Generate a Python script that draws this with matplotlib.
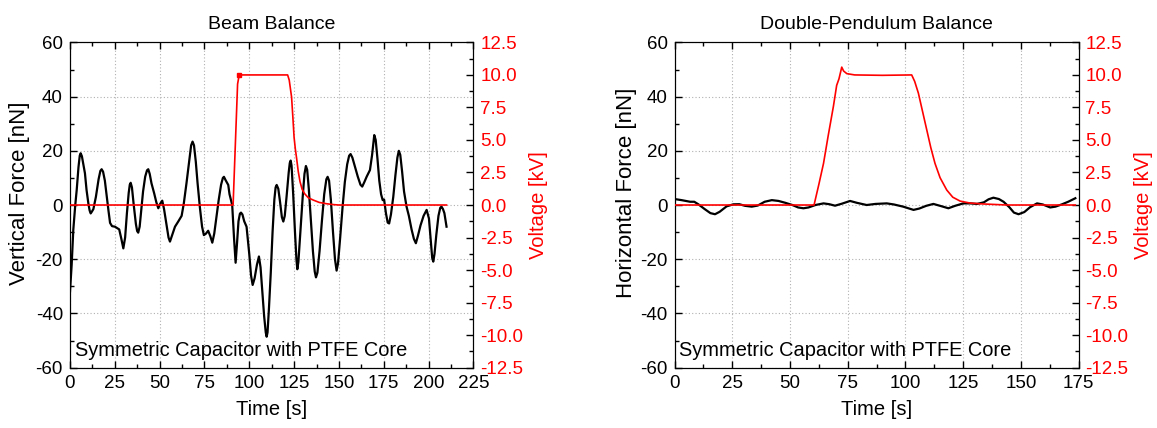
import matplotlib
matplotlib.use("Agg")
import matplotlib.pyplot as plt
from matplotlib.ticker import MultipleLocator, FormatStrFormatter

plt.rcParams['font.family'] = ['Liberation Sans', 'DejaVu Sans']
plt.rcParams['axes.unicode_minus'] = False

# --- Beam balance ---
beam_t = [0, 1.0, 1.9, 3.0, 3.8, 4.8, 5.5, 6.0, 6.7, 7.5, 8.4, 9.3, 10.3, 11.0, 11.6,
          12.3, 13.1, 14.5, 16.0, 17.0, 17.7, 18.5, 19.5, 20.5, 21.5, 22.4, 23.5,
          25.1, 26.5, 27.5, 28.7, 29.8, 30.8, 31.8, 32.8, 33.4, 33.9, 34.6, 35.6,
          36.8, 37.5, 38.1, 38.9, 39.8, 40.8, 42.0, 43.0, 43.7, 44.5, 45.5, 47.0,
          48.2, 49.3, 50.2, 51.5, 52.5, 53.8, 55.0, 55.8, 56.8, 58.6, 60.5, 62.3,
          63.5, 65.0, 66.5, 67.6, 68.4, 69.2, 70.2, 71.2, 72.5, 73.7, 74.7, 75.8,
          77.1, 78.3, 79.4, 80.5, 81.8, 83.0, 84.3, 85.3, 85.9, 86.8, 88.3, 89.0,
          90.5, 91.5, 92.4, 93.2, 94.0, 94.8, 95.4, 96.2, 97.2, 98.5, 100.0, 101.0,
          101.9, 103.0, 104.3, 105.4, 106.3, 107.3, 108.3, 109.2, 109.7, 110.2,
          111.0, 112.0, 113.0, 114.0, 114.7, 115.3, 116.2, 117.2, 118.2, 119.0,
          119.8, 120.8, 122.0, 122.6, 123.1, 123.6, 124.5, 125.5, 126.3, 126.8,
          127.4, 128.5, 129.8, 130.8, 131.6, 132.3, 133.2, 134.3, 135.5, 136.5,
          137.2, 138.0, 139.2, 140.5, 141.8, 143.0, 143.7, 144.5, 145.5, 146.7,
          147.8, 148.7, 149.5, 150.7, 152.0, 153.3, 154.6, 155.7, 156.5, 157.5,
          159.0, 160.5, 162.0, 163.0, 164.2, 165.5, 167.3, 168.5, 169.7, 170.5,
          171.5, 172.5, 173.5, 174.4, 175.2, 176.2, 177.2, 178.0, 179.0, 180.3,
          181.5, 182.6, 183.4, 184.2, 185.2, 186.3, 187.7, 189.0, 190.5, 191.8,
          192.9, 194.0, 195.5, 197.2, 198.9, 200.2, 201.3, 202.0, 202.6, 203.3,
          204.3, 205.5, 206.5, 207.2, 208.0, 208.8, 209.5, 210.0]
beam_force = [-32.6, -22, -9.2, 0, 5.5, 14, 18.2, 19.1, 18.0, 15, 11.7, 5.5, 0.6, -2.0,
              -3.1, -2.4, -1.5, 3, 9.5, 12.6, 13.2, 12.3, 9, 3.5, -2, -6.6, -7.8,
              -8.0, -8.6, -9.0, -12.5, -16.0, -12, -3, 4.5, 7.5, 8.2, 6.5, 0, -7,
              -9.6, -10.2, -8, -2, 5, 10.5, 12.8, 13.2, 11.5, 8, 4.3, 1.0, -1.2, 0.3,
              1.6, -1.5, -7, -12, -13.5, -11.5, -8.0, -6, -4.0, 0.5, 8, 16, 22, 23.4,
              22, 16, 8, -1, -8, -11.1, -10.6, -9.5, -11.5, -13.9, -10.5, -4, 2, 7.5,
              10, 10.4, 9.2, 7.4, 4, 0, -12, -21.3, -14, -6, -3.2, -2.8, -3.5, -6,
              -8.0, -18, -26, -29.5, -27, -22, -19, -23, -32, -41, -47, -48.6, -47,
              -38, -25, -10, 2, 6.5, 7.4, 6, 1, -4.5, -6.1, -4, 3, 12, 15.5, 16.4,
              14.5, 4, -10, -20, -23.7, -21, -10, 3, 11.5, 14.4, 13, 6, -5, -17,
              -24.5, -26.7, -25, -17, -6, 4, 9.5, 10.4, 9, 2, -10, -20, -24.2, -21.5,
              -12, -1, 8.5, 15, 18.2, 18.8, 17.5, 14, 10.5, 7.5, 6.8, 8.5, 10.5, 12.9,
              18.5, 25.8, 24, 17, 9, 4, 1.8, 2, -3, -6.5, -6.8, -3.5, 3, 11, 17.5,
              20.0, 18.5, 12.5, 5, -0.6, -4, -9, -12.5, -14.1, -11.5, -7.5, -4, -1.8,
              -5, -14, -19.5, -20.9, -18, -11, -4, -1, -0.6, -1.5, -3, -6, -8]
beam_volt_t = [0, 91.0, 93.5, 94.4, 121.4, 122.3, 123.0, 123.6, 124.3, 125.0, 125.7,
               126.4, 127.3, 128.3, 129.5, 131.0, 133.0, 135.7, 139.0, 143.0, 147.0,
               150.0, 210.0]
beam_volt = [0, 0, 9.3, 10.0, 10.0, 9.6, 8.9, 8.3, 6.8, 5.2, 4.3, 3.6, 2.6, 1.8, 1.2,
             0.85, 0.55, 0.38, 0.2, 0.1, 0.03, 0, 0]

# --- Double-pendulum balance ---
pend_t = [0, 3, 6.7, 8.5, 10.3, 13, 15.5, 17.5, 19.5, 22.5, 25.4, 28, 30.5, 33.4, 36,
          39, 42.1, 45, 48, 51, 53.5, 55.8, 58, 61, 64.5, 67, 69.5, 72.5, 76.0, 79,
          83.2, 87, 91.9, 95, 99, 103.5, 106, 109, 112.1, 115, 118.6, 121.5, 125.1,
          128, 131.0, 134, 136, 138.1, 140.5, 142.5, 145, 147, 149.0, 151.5, 154,
          157.0, 159.5, 162.7, 165, 167.8, 170.5, 173.6]
pend_force = [2.2, 1.8, 1.2, 1.2, 0.25, -1.5, -3.0, -3.4, -2.5, -0.5, 0.25, 0.3, -0.3,
              -0.6, -0.2, 1.2, 1.8, 1.5, 0.8, 0, -0.9, -1.2, -0.9, 0, 0.6, 0.3, -0.25,
              0.5, 1.5, 0.8, 0, 0.4, 0.6, 0.2, -0.6, -1.8, -1.3, -0.3, 0.4, -0.3, -1.2,
              -0.3, 0.6, 0.6, 0.4, 1.0, 2.1, 2.7, 2.2, 1.2, -0.8, -2.8, -3.4, -2.6, -0.8,
              0.6, 0.2, -0.9, -0.6, 0.25, 1.2, 2.5]
pend_volt_t = [0, 60.4, 62.5, 64.5, 66.5, 68.8, 70.2, 71.2, 72.4, 73.2, 74.6, 78.0,
               90.0, 102.7, 104.0, 105.6, 107.4, 109.2, 111.0, 112.8, 115.0, 117.9,
               120.5, 123.7, 128.0, 133.8, 144.0, 173.6]
pend_volt = [0, 0, 1.6, 3.2, 5.3, 7.6, 9.2, 9.7, 10.6, 10.3, 10.1, 10.0, 9.97, 10.0,
             9.5, 8.6, 7.2, 5.8, 4.4, 3.2, 2.1, 1.15, 0.6, 0.3, 0.15, 0.08, 0, 0]

LABEL_CLR = '#ff0000'
TICK_FS = 13.5
LABEL_FS = 14.5


def draw_panel(fig, rect, title, ylabel, t, force, vt, volt, xmax, ylab_x):
    ax = fig.add_axes(rect)
    ax.plot(t, force, color='black', lw=1.6, zorder=3)
    ax.set_xlim(0, xmax)
    ax.set_ylim(-60, 60)
    ax.xaxis.set_major_locator(MultipleLocator(25))
    ax.xaxis.set_minor_locator(MultipleLocator(12.5))
    ax.yaxis.set_major_locator(MultipleLocator(20))
    ax.yaxis.set_minor_locator(MultipleLocator(10))
    ax.grid(True, which='major', color='#b0b0b0', ls=(0, (1, 2)), lw=0.8)
    ax.tick_params(which='both', direction='in', top=True, right=False,
                   labelsize=TICK_FS, width=1, pad=5)
    ax.tick_params(which='major', length=5)
    ax.tick_params(which='minor', length=3)
    ax.set_xlabel('Time [s]', fontsize=LABEL_FS, labelpad=6)
    ax.set_ylabel(ylabel, fontsize=16)
    ax.yaxis.set_label_coords(ylab_x, 0.536)
    ax.set_title(title, fontsize=14, pad=10)
    ax.text(0.012, 0.022, 'Symmetric Capacitor with PTFE Core', transform=ax.transAxes,
            fontsize=14.4, ha='left', va='bottom')

    ax2 = ax.twinx()
    ax2.plot(vt, volt, color=LABEL_CLR, lw=1.2, zorder=4)
    ax2.set_ylim(-12.5, 12.5)
    ax2.yaxis.set_major_locator(MultipleLocator(2.5))
    ax2.yaxis.set_minor_locator(MultipleLocator(1.25))
    ax2.yaxis.set_major_formatter(FormatStrFormatter('%.1f'))
    ax2.tick_params(which='both', direction='in', labelsize=TICK_FS, labelcolor=LABEL_CLR,
                    width=1, pad=5)
    ax2.tick_params(which='major', length=5)
    ax2.tick_params(which='minor', length=3)
    ax2.set_ylabel('Voltage [kV]', color=LABEL_CLR, fontsize=LABEL_FS, labelpad=4)
    return ax, ax2


fig = plt.figure(figsize=(11.57, 4.28), dpi=100)

ax_l, ax_l2 = draw_panel(fig, [0.0604, 0.1411, 0.3488, 0.7598], 'Beam Balance',
                         'Vertical Force [nN]', beam_t, beam_force,
                         beam_volt_t, beam_volt, 225, -0.099)
# small marker where the beam voltage reaches its plateau
ax_l2.plot(beam_volt_t[3], beam_volt[3], 's', color=LABEL_CLR, ms=3, zorder=5)

draw_panel(fig, [0.5831, 0.1411, 0.3491, 0.7598], 'Double-Pendulum Balance',
           'Horizontal Force [nN]', pend_t, pend_force, pend_volt_t, pend_volt, 175, -0.093)

fig.savefig('out.png', dpi=100)
